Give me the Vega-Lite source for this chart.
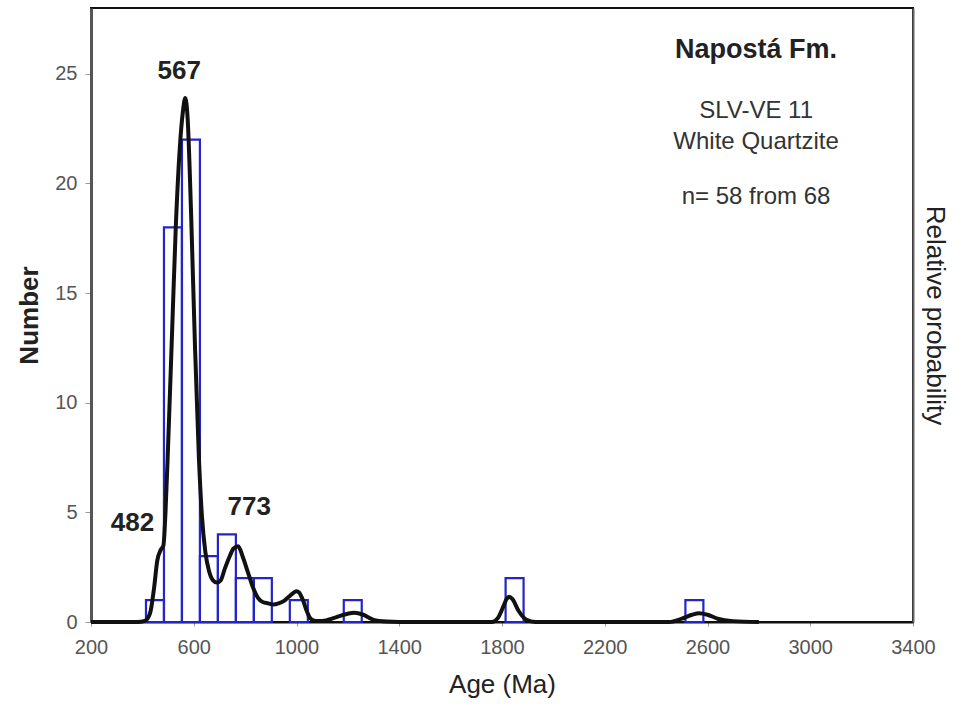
{
  "$schema": "https://vega.github.io/schema/vega-lite/v6.json",
  "autosize": "none",
  "width": 822,
  "height": 614,
  "padding": {"left": 91, "top": 8, "right": 54, "bottom": 95},
  "background": "white",
  "config": {
    "font": "Liberation Sans",
    "view": {"stroke": "#111111", "strokeWidth": 2},
    "axis": {"labelFont": "Liberation Sans", "titleFont": "Liberation Sans", "grid": false}
  },
  "datasets": {
    "bins": [
      {"start": 414, "end": 484, "count": 1},
      {"start": 484, "end": 554, "count": 18},
      {"start": 554, "end": 624, "count": 22},
      {"start": 624, "end": 694, "count": 3},
      {"start": 694, "end": 764, "count": 4},
      {"start": 764, "end": 834, "count": 2},
      {"start": 834, "end": 904, "count": 2},
      {"start": 974, "end": 1044, "count": 1},
      {"start": 1184, "end": 1254, "count": 1},
      {"start": 1814, "end": 1884, "count": 2},
      {"start": 2514, "end": 2584, "count": 1}
    ],
    "curve": [
      {"age": 200, "prob": 0}, {"age": 380, "prob": 0}, {"age": 410, "prob": 0.05},
      {"age": 430, "prob": 0.4}, {"age": 445, "prob": 1.5}, {"age": 458, "prob": 2.8},
      {"age": 472, "prob": 3.3}, {"age": 482, "prob": 3.5}, {"age": 490, "prob": 5},
      {"age": 500, "prob": 8}, {"age": 515, "prob": 13}, {"age": 530, "prob": 18},
      {"age": 545, "prob": 21.5}, {"age": 558, "prob": 23.3}, {"age": 567, "prob": 23.9},
      {"age": 576, "prob": 23}, {"age": 590, "prob": 18.5}, {"age": 605, "prob": 12.5},
      {"age": 620, "prob": 7.5}, {"age": 632, "prob": 4.8}, {"age": 645, "prob": 3.2},
      {"age": 660, "prob": 2.3}, {"age": 675, "prob": 1.9}, {"age": 690, "prob": 1.8},
      {"age": 705, "prob": 1.9}, {"age": 720, "prob": 2.4}, {"age": 740, "prob": 3.0},
      {"age": 755, "prob": 3.35}, {"age": 773, "prob": 3.45}, {"age": 790, "prob": 3.0},
      {"age": 810, "prob": 2.3}, {"age": 830, "prob": 1.6}, {"age": 850, "prob": 1.1},
      {"age": 870, "prob": 0.9}, {"age": 890, "prob": 0.85}, {"age": 910, "prob": 0.8},
      {"age": 930, "prob": 0.85}, {"age": 950, "prob": 0.95}, {"age": 970, "prob": 1.15},
      {"age": 990, "prob": 1.35}, {"age": 1000, "prob": 1.4}, {"age": 1010, "prob": 1.35},
      {"age": 1025, "prob": 1.0}, {"age": 1040, "prob": 0.5}, {"age": 1055, "prob": 0.15},
      {"age": 1075, "prob": 0.05}, {"age": 1100, "prob": 0.05}, {"age": 1150, "prob": 0.2},
      {"age": 1200, "prob": 0.38}, {"age": 1225, "prob": 0.42}, {"age": 1260, "prob": 0.33},
      {"age": 1300, "prob": 0.1}, {"age": 1350, "prob": 0.02}, {"age": 1400, "prob": 0},
      {"age": 1760, "prob": 0}, {"age": 1785, "prob": 0.2}, {"age": 1805, "prob": 0.7},
      {"age": 1818, "prob": 1.05}, {"age": 1828, "prob": 1.15}, {"age": 1840, "prob": 1.05},
      {"age": 1865, "prob": 0.5}, {"age": 1895, "prob": 0.1}, {"age": 1930, "prob": 0},
      {"age": 2450, "prob": 0}, {"age": 2500, "prob": 0.15}, {"age": 2540, "prob": 0.33},
      {"age": 2567, "prob": 0.4}, {"age": 2600, "prob": 0.33}, {"age": 2640, "prob": 0.15},
      {"age": 2700, "prob": 0.04}, {"age": 2800, "prob": 0}
    ],
    "peaks": [
      {"age": 482, "prob": 3.5, "label": "482"},
      {"age": 567, "prob": 23.9, "label": "567"},
      {"age": 773, "prob": 3.45, "label": "773"}
    ],
    "notes": [
      {"line": "SLV-VE 11", "row": 23.3},
      {"line": "White Quartzite", "row": 21.9},
      {"line": "n= 58 from 68", "row": 19.4}
    ]
  },
  "resolve": {"scale": {"y": "independent"}},
  "layer": [
    {
      "data": {"name": "bins"},
      "mark": {"type": "rect", "fill": "white", "fillOpacity": 0, "stroke": "#2424c8", "strokeWidth": 2.2},
      "encoding": {
        "x": {
          "field": "start", "type": "quantitative",
          "scale": {"domain": [200, 3400], "nice": false, "zero": false},
          "axis": {
            "values": [200, 600, 1000, 1400, 1800, 2200, 2600, 3000, 3400],
            "format": "d", "labelFlush": false,
            "title": "Age (Ma)", "titleFontSize": 26, "titleFontWeight": "normal",
            "titleColor": "#222222", "titlePadding": 14,
            "labelFontSize": 20, "labelColor": "#555555", "labelPadding": 11,
            "tickSize": 4, "tickColor": "#999999", "domainColor": "#111111", "domainWidth": 2
          }
        },
        "x2": {"field": "end"},
        "y": {
          "field": "count", "type": "quantitative",
          "scale": {"domain": [0, 28], "nice": false},
          "axis": {
            "values": [0, 5, 10, 15, 20, 25],
            "title": "Number", "titleFontSize": 26, "titleFontWeight": "bold",
            "titleColor": "#222222", "titlePadding": 12,
            "labelFontSize": 20, "labelColor": "#555555", "labelPadding": 8,
            "tickSize": 6, "tickColor": "#999999", "domainColor": "#555555", "domainWidth": 3
          }
        },
        "y2": {"datum": 0}
      }
    },
    {
      "layer": [
        {
          "data": {"name": "curve"},
          "mark": {"type": "line", "color": "#111111", "strokeWidth": 4, "interpolate": "monotone"},
          "encoding": {
            "x": {"field": "age", "type": "quantitative"},
            "y": {
              "field": "prob", "type": "quantitative",
              "scale": {"domain": [0, 28], "nice": false},
              "axis": {
                "orient": "right", "labels": false, "ticks": false,
                "title": "Relative probability", "titleFontSize": 26,
                "titleFontWeight": "normal", "titleColor": "#222222", "titlePadding": 8,
                "domainColor": "#666666", "domainWidth": 2
              }
            }
          }
        },
        {
          "data": {"name": "peaks"},
          "transform": [{"filter": "datum.label === '567'"}],
          "mark": {"type": "text", "fontSize": 26, "fontWeight": "bold", "color": "#222222", "dx": -6, "dy": -27},
          "encoding": {"x": {"field": "age", "type": "quantitative"}, "y": {"field": "prob", "type": "quantitative"}, "text": {"field": "label"}}
        },
        {
          "data": {"name": "peaks"},
          "transform": [{"filter": "datum.label === '482'"}],
          "mark": {"type": "text", "fontSize": 26, "fontWeight": "bold", "color": "#222222", "dx": -31, "dy": -22},
          "encoding": {"x": {"field": "age", "type": "quantitative"}, "y": {"field": "prob", "type": "quantitative"}, "text": {"field": "label"}}
        },
        {
          "data": {"name": "peaks"},
          "transform": [{"filter": "datum.label === '773'"}],
          "mark": {"type": "text", "fontSize": 26, "fontWeight": "bold", "color": "#222222", "dx": 11, "dy": -39},
          "encoding": {"x": {"field": "age", "type": "quantitative"}, "y": {"field": "prob", "type": "quantitative"}, "text": {"field": "label"}}
        },
        {
          "data": {"values": [{"line": "Napostá Fm."}]},
          "mark": {"type": "text", "fontSize": 27, "fontWeight": "bold", "color": "#222222"},
          "encoding": {"x": {"datum": 2789}, "y": {"datum": 26.1}, "text": {"field": "line"}}
        },
        {
          "data": {"name": "notes"},
          "mark": {"type": "text", "fontSize": 24, "color": "#333333"},
          "encoding": {"x": {"datum": 2789}, "y": {"field": "row", "type": "quantitative"}, "text": {"field": "line"}}
        }
      ]
    }
  ]
}
